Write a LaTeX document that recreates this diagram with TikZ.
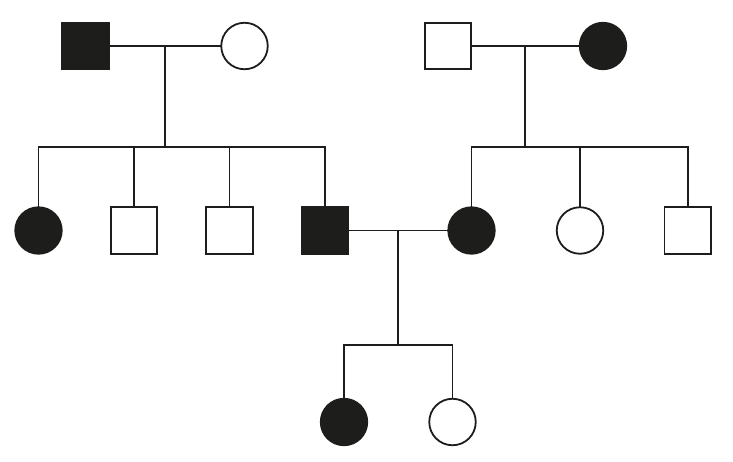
\documentclass[tikz,border=0pt]{standalone}
\definecolor{ink}{RGB}{29,29,27}
\tikzset{
  person/.style={draw=ink, line width=1.8pt, minimum size=46.5pt, inner sep=0pt, outer sep=0pt},
  male/.style={person, rectangle},
  female/.style={person, circle},
  affected/.style={fill=ink},
  healthy/.style={fill=white},
  link/.style={draw=ink, line width=1.8pt}
}
\begin{document}
\begin{tikzpicture}[x=1pt,y=-1pt]
\useasboundingbox (0,0) rectangle (733,461);
% generation I
\node[male,affected]   (I1) at (85.5,46) {};
\node[female,healthy]  (I2) at (244.5,46) {};
\node[male,healthy]    (I3) at (448,46) {};
\node[female,affected] (I4) at (603,46) {};
% generation II
\node[female,affected] (II1) at (38.5,230.5) {};
\node[male,healthy]    (II2) at (134,230.5) {};
\node[male,healthy]    (II3) at (229.5,230.5) {};
\node[male,affected]   (II4) at (325,230.5) {};
\node[female,affected] (II5) at (471.5,230.5) {};
\node[female,healthy]  (II6) at (580,230.5) {};
\node[male,healthy]    (II7) at (687.7,230.5) {};
% generation III
\node[female,affected] (III1) at (344,422) {};
\node[female,healthy]  (III2) at (452.5,422) {};
% helper coordinates
\coordinate (m1) at (165,46);
\coordinate (s1) at (165,146.7);
\coordinate (m2) at (525.3,46);
\coordinate (s2) at (525.3,146.7);
\coordinate (m3) at (398.3,230.5);
\coordinate (s3) at (398.3,345);
% connectors
\draw[link] (I1) -- (I2);
\draw[link] (m1) -- (s1);
\draw[link] (II1) -- (II1 |- s1) -- (II4 |- s1) -- (II4);
\draw[link] (II2 |- s1) -- (II2);
\draw[link] (II3 |- s1) -- (II3);
\draw[link] (I3) -- (I4);
\draw[link] (m2) -- (s2);
\draw[link] (II5) -- (II5 |- s2) -- (II7 |- s2) -- (II7);
\draw[link] (II6 |- s2) -- (II6);
\draw[link] (II4) -- (II5);
\draw[link] (m3) -- (s3);
\draw[link] (III1) -- (III1 |- s3) -- (III2 |- s3) -- (III2);
\end{tikzpicture}
\end{document}
